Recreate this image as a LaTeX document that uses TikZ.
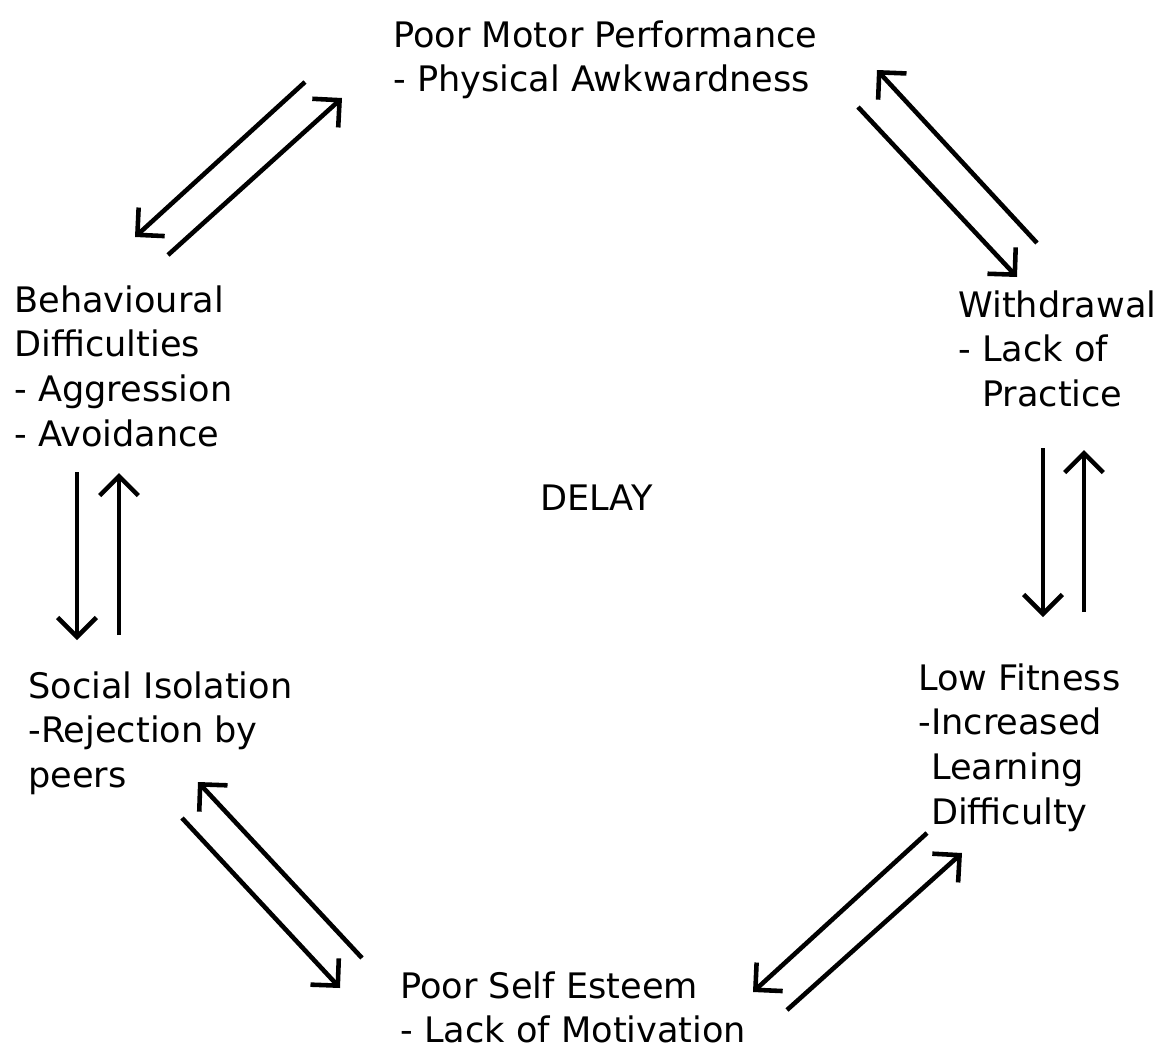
\documentclass[tikz,border=0pt]{standalone}
\usepackage{fontspec}
\setmainfont{DejaVu Sans}
\usetikzlibrary{arrows.meta}

\begin{document}
\begin{tikzpicture}[x=0.02cm,y=-0.02cm,
    flow/.style={line width=2.6pt,-{Straight Barb[length=11pt,width=22pt]}},
    stage/.style={anchor=north west,inner sep=0pt,align=left,font=\fontsize{20}{25.5}\selectfont}]
  \useasboundingbox (0,0) rectangle (1161,1049);

  % the stages round the circle
  \node[stage] (motor) at (393,20) {Poor Motor Performance\\- Physical Awkwardness};
  \node[stage] (withdr) at (958,290) {\fontsize{20}{28}\selectfont Withdrawal\\- Lack of\\\phantom{- }Practice};
  \node[stage] (fitness) at (918,663) {\fontsize{20}{28}\selectfont Low Fitness\\-Increased\\\phantom{-}Learning\\\phantom{-}Difficulty};
  \node[stage] (esteem) at (400,971) {Poor Self Esteem\\- Lack of Motivation};
  \node[stage] (social) at (28,671) {\fontsize{20}{26.5}\selectfont Social Isolation\\-Rejection by\\peers};
  \node[stage] (behav) at (14,285) {Behavioural\\Difficulties\\- Aggression\\- Avoidance};

  \node[anchor=base west,inner sep=0pt,font=\fontsize{20}{25.5}\selectfont] (delay) at (540,510) {DELAY};

  % ends of the arrows
  \coordinate (tlA) at (305,82);   \coordinate (tlB) at (135,237);
  \coordinate (tlC) at (168,255);  \coordinate (tlD) at (342,98);
  \coordinate (trA) at (1037,243); \coordinate (trB) at (877,70);
  \coordinate (trC) at (858,107);  \coordinate (trD) at (1017,277);
  \coordinate (rvA) at (1043,448); \coordinate (rvB) at (1043,617);
  \coordinate (rvC) at (1084,612); \coordinate (rvD) at (1084,450);
  \coordinate (brA) at (927,833);  \coordinate (brB) at (753,992);
  \coordinate (brC) at (787,1010); \coordinate (brD) at (962,853);
  \coordinate (blA) at (362,958);  \coordinate (blB) at (198,782);
  \coordinate (blC) at (182,818);  \coordinate (blD) at (340,988);
  \coordinate (lvA) at (77,472);   \coordinate (lvB) at (77,640);
  \coordinate (lvC) at (119,635);  \coordinate (lvD) at (119,473);

  \draw[flow] (tlA) -- (tlB);
  \draw[flow] (tlC) -- (tlD);
  \draw[flow] (trA) -- (trB);
  \draw[flow] (trC) -- (trD);
  \draw[flow] (rvA) -- (rvB);
  \draw[flow] (rvC) -- (rvD);
  \draw[flow] (brA) -- (brB);
  \draw[flow] (brC) -- (brD);
  \draw[flow] (blA) -- (blB);
  \draw[flow] (blC) -- (blD);
  \draw[flow] (lvA) -- (lvB);
  \draw[flow] (lvC) -- (lvD);

\end{tikzpicture}
\end{document}
